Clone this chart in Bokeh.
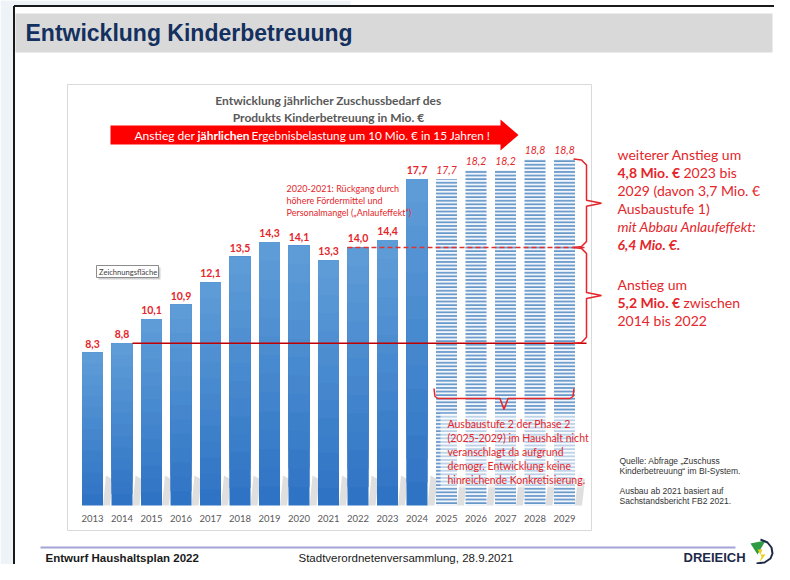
from bokeh.plotting import figure
from bokeh.models import Range1d
from bokeh.core.properties import value
from bokeh.embed import file_html
from bokeh.resources import INLINE

# ---------------- data ----------------
years = [2013, 2014, 2015, 2016, 2017, 2018, 2019, 2020, 2021, 2022, 2023, 2024,
         2025, 2026, 2027, 2028, 2029]
zuschuss = [8.3, 8.8, 10.1, 10.9, 12.1, 13.5, 14.3, 14.1, 13.3, 14.0, 14.4, 17.7,
            17.7, 18.2, 18.2, 18.8, 18.8]
n_actual = 12  # 2013-2024 budgeted, 2025-2029 planned
year_labels = [str(y) for y in years]
value_labels = [f"{v:.1f}".replace(".", ",") for v in zuschuss]

# ------------- layout helpers (slide pixel -> data) -------------
X0, DX, Y0, DY = 92.0, 29.5, 505.0, 18.43
def X(px):
    return 2013 + (px - X0) / DX
def Y(py):
    return (Y0 - py) / DY

BW = 21.0 / DX
RED = "#e4262b"
CAL = "Lato"
ARIAL = "Liberation Sans"

p = figure(width=774, height=564, output_backend="svg", toolbar_location=None,
           x_range=Range1d(X(0), X(774)), y_range=Range1d(Y(564), Y(0)),
           min_border=0)
p.axis.visible = False
p.grid.visible = False
p.outline_line_color = None
p.background_fill_color = "white"
p.border_fill_color = "white"

def txt(px, py, s, size, color, style="normal", align="left", font=CAL):
    p.text(x=[X(px)], y=[Y(py)], text=[s],
           text_font=value(font), text_font_size=f"{size}px",
           text_font_style=style, text_color=color, text_align=align,
           text_baseline="middle")

# ------------- slide frame -------------
p.quad(left=[X(0)], right=[X(13)], bottom=[Y(564)], top=[Y(0)],
       fill_color="#eef3f8", line_color=None)
p.quad(left=[X(0)], right=[X(350)], bottom=[Y(5)], top=[Y(0)],
       fill_color="#eef3f8", line_color=None)
p.segment(x0=[X(13.5)], y0=[Y(564)], x1=[X(13.5)], y1=[Y(5.5)],
          line_color="#1a1a1a", line_width=2)
p.segment(x0=[X(13.5)], y0=[Y(5.5)], x1=[X(774)], y1=[Y(5.5)],
          line_color="#1a1a1a", line_width=2)
p.quad(left=[X(15)], right=[X(772)], bottom=[Y(52)], top=[Y(13)],
       fill_color="#d9d9d9", line_color=None)
txt(25, 32, "Entwicklung Kinderbetreuung", 23, "#14305f", "bold", font=ARIAL)

# chart area
p.quad(left=[X(67)], right=[X(591)], bottom=[Y(530)], top=[Y(84)],
       fill_color="white", line_color="#d9d9d9", line_width=1)
txt(328, 100, "Entwicklung jährlicher Zuschussbedarf des", 12, "#595959", "bold", "center")
txt(328, 117, "Produkts Kinderbetreuung in Mio. €", 12, "#595959", "bold", "center")

# red arrow
p.patch(x=[X(110), X(500), X(500), X(518), X(500), X(500), X(110)],
        y=[Y(125), Y(125), Y(119), Y(134.5), Y(150), Y(144), Y(144)],
        fill_color="#ff0000", line_color=None)
txt(134, 135, "Anstieg der", 12, "white")
txt(197, 135, "jährlichen", 12, "white", "bold")
txt(251, 135, "Ergebnisbelastung um 10 Mio. € in 15 Jahren !", 11.8, "white")

# ------------- bars -------------
act_x, act_v = years[:n_actual], zuschuss[:n_actual]
plan_x, plan_v = years[n_actual:], zuschuss[n_actual:]

# soft shadows at the foot of each bar
sh_xs, sh_ys = [], []
for yr in years:
    r = yr + BW / 2
    sh_xs.append([r, r + 7 / DX, r + 10 / DX, r + 3 / DX])
    sh_ys.append([0, 0, 26 / DY, 30 / DY])
p.patches(xs=sh_xs, ys=sh_ys, fill_color="#b8b8b8", fill_alpha=0.45, line_color=None)

# gradient on actual bars (dark bottom -> light top)
N = 14
c0 = (0x2f, 0x74, 0xc4)
c1 = (0x5e, 0x9c, 0xd8)
for k in range(N):
    t = k / (N - 1)
    col = "#%02x%02x%02x" % tuple(int(round(a + (b - a) * t)) for a, b in zip(c0, c1))
    p.vbar(x=act_x, width=BW, top=act_v, bottom=[v * k / N for v in act_v],
           fill_color=col, line_color=None)

p.vbar(x=plan_x, width=BW, top=plan_v, bottom=0, fill_color="#f2f6fb",
       line_color=None, hatch_pattern="horizontal_line", hatch_color="#6597ca",
       hatch_scale=3.6, hatch_weight=1.8)

# value labels
p.text(x=act_x, y=act_v, text=value_labels[:n_actual], text_font=value(CAL),
       text_font_size="10.5px", text_font_style="bold", text_color=RED,
       text_align="center", text_baseline="bottom", y_offset=-5)
p.text(x=plan_x, y=plan_v, text=value_labels[n_actual:], text_font=value(CAL),
       text_font_size="10.5px", text_font_style="italic", text_color=RED,
       text_align="center", text_baseline="bottom", y_offset=-5)

# year labels
p.text(x=years, y=[Y(518)] * len(years), text=year_labels, text_font=value(CAL),
       text_font_size="9.5px", text_color="#595959", text_align="center",
       text_baseline="middle")

# reference lines
p.segment(x0=[years[1] + BW / 2], y0=[zuschuss[1]], x1=[X(586)], y1=[zuschuss[1]],
          line_color="#c00000", line_width=1.5)
p.segment(x0=[years[9] - BW / 2], y0=[zuschuss[9]], x1=[X(586)], y1=[zuschuss[9]],
          line_color="#e03030", line_width=1.5, line_dash="5 3")

def vbrace(top, bot):
    mid = (top + bot) / 2
    c = 3.0 / DY
    xs = [X(573), X(581), X(586), X(586), X(601), X(586), X(586), X(581), X(573)]
    ys = [top, top - c * 0.3, top - 2 * c, mid + c, mid, mid - c, bot + 2 * c, bot + c * 0.3, bot]
    p.line(x=xs, y=ys, line_color=RED, line_width=1.5)

vbrace(zuschuss[-1], zuschuss[9])
vbrace(zuschuss[9], zuschuss[1])

# bottom brace under planned bars
bl = plan_x[0] - BW / 2 - 2 / DX
br = plan_x[-1] + BW / 2 - 1 / DX
bm = (bl + br) / 2
p.line(x=[bl, bl + 1 / DX, bl + 4 / DX, bm - 4 / DX, bm, bm + 4 / DX, br - 4 / DX, br - 1 / DX, br],
       y=[Y(388), Y(396), Y(398), Y(398), Y(409), Y(398), Y(398), Y(396), Y(388)],
       line_color=RED, line_width=1.5)

p.quad(left=[X(440)], right=[X(582)], bottom=[Y(487)], top=[Y(413)],
       fill_color="white", fill_alpha=0.55, line_color=None)
for i, s in enumerate(["Ausbaustufe 2 der Phase 2",
                       "(2025-2029) im Haushalt nicht",
                       "veranschlagt da aufgrund",
                       "demogr. Entwicklung keine",
                       "hinreichende Konkretisierung."]):
    txt(447, 423 + i * 14, s, 10.5, RED)

# 2020-2021 note
for i, s in enumerate(["2020-2021: Rückgang durch", "höhere Fördermittel und",
                       "Personalmangel („Anlaufeffekt“)"]):
    txt(286, 188 + i * 12, s, 9, RED)

# Zeichnungsfläche tag
p.quad(left=[X(98)], right=[X(160)], bottom=[Y(279)], top=[Y(267)],
       fill_color="#cfcfcf", line_color=None)
p.quad(left=[X(96)], right=[X(158)], bottom=[Y(277)], top=[Y(265)],
       fill_color="white", line_color="#8c8c8c", line_width=1)
txt(98.5, 271, "Zeichnungsfläche", 7.6, "#404040")

# right text blocks
txt(617, 154, "weiterer Anstieg um", 14, RED)
txt(617, 172, "4,8 Mio. €", 14, RED, "bold")
txt(683, 172, "2023 bis", 14, RED)
txt(617, 190, "2029 (davon 3,7 Mio. €", 14, RED)
txt(617, 208, "Ausbaustufe 1)", 14, RED)
txt(617, 226, "mit Abbau Anlaufeffekt:", 14, RED, "italic")
txt(617, 244, "6,4 Mio. €.", 14, RED, "bold italic")
txt(617, 284, "Anstieg um", 14, RED)
txt(617, 302, "5,2 Mio. €", 14, RED, "bold")
txt(683, 302, "zwischen", 14, RED)
txt(617, 320, "2014 bis 2022", 14, RED)

# source notes
for py, s in [(460, "Quelle: Abfrage „Zuschuss"), (470, "Kinderbetreuung“ im BI-System."),
              (490, "Ausbau ab 2021 basiert auf"), (500, "Sachstandsbericht FB2 2021.")]:
    txt(619, py, s, 8.5, "#333333", font=ARIAL)

# ------------- footer -------------
p.segment(x0=[X(40)], y0=[Y(547)], x1=[X(735)], y1=[Y(547)],
          line_color="#a3a3d6", line_width=2)
txt(45, 557, "Entwurf Haushaltsplan 2022", 11.5, "#1a1a1a", "bold", font=ARIAL)
txt(298, 557, "Stadtverordnetenversammlung, 28.9.2021", 11.5, "#1a1a1a", font=ARIAL)
txt(683, 557, "DREIEICH", 13, "#1c2a48", "bold", font=ARIAL)
# logo emblem
p.patch(x=[X(750), X(765), X(757)], y=[Y(543), Y(540), Y(554)],
        fill_color="#2f9a45", line_color=None)
p.patch(x=[X(757), X(762), X(760), X(765), X(759), X(761)],
        y=[Y(549), Y(549), Y(554), Y(554), Y(562), Y(556)],
        fill_color="#e8cf1c", line_color=None)
p.line(x=[X(760), X(767), X(771), X(772), X(770), X(764), X(756)],
       y=[Y(539), Y(542), Y(547), Y(553), Y(558), Y(562), Y(563)],
       line_color="#1c2a48", line_width=2)

open("out.html", "w").write(file_html(p, INLINE))
